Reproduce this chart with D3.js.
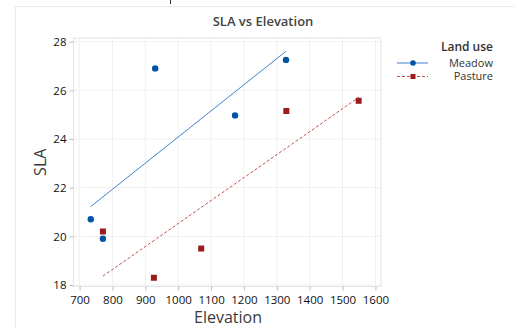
<!DOCTYPE html>
<html>
<head>
<meta charset="utf-8">
<script src="https://cdn.jsdelivr.net/npm/d3@7"></script>
<style>
  html, body { margin: 0; padding: 0; background: #fff; }
  svg { display: block; font-family: "Open Sans", "Noto Sans", sans-serif; }
</style>
</head>
<body>
<svg id="chart" width="514" height="328"></svg>
<script>
// Observations by land use
const meadowElevation = [734, 771, 930, 1173, 1328];
const meadowSLA       = [20.7, 19.9, 26.9, 24.97, 27.25];
const pastureElevation = [771, 926, 1070, 1329, 1549];
const pastureSLA       = [20.2, 18.3, 19.5, 25.15, 25.57];

const xTicks = [700, 800, 900, 1000, 1100, 1200, 1300, 1400, 1500, 1600];
const yTicks = [18, 20, 22, 24, 26, 28];
const landUse = ["Meadow", "Pasture"];

const svg = d3.select("#chart");
const W = 514, H = 328;
const plot = { left: 73.5, right: 381, top: 38, bottom: 286.5 };

const x = d3.scaleLinear().domain([681.5, 1617]).range([plot.left, plot.right]);
const y = d3.scaleLinear().domain([28.15, 17.94]).range([plot.top, plot.bottom]);

const colors = { Meadow: "#0054a6", Pasture: "#9b1c1c" };
const lineColors = { Meadow: "#3f82cf", Pasture: "#c0504d" };

// outer frame of the graph window
svg.append("rect").attr("x", 15.5).attr("y", 6.5).attr("width", W).attr("height", H)
  .attr("fill", "none").attr("stroke", "#ececec");
svg.append("line").attr("x1", 170.5).attr("x2", 170.5).attr("y1", 0).attr("y2", 4)
  .attr("stroke", "#333").attr("stroke-width", 1);

// gridlines
const g = svg.append("g");
g.selectAll(".gx").data(xTicks).join("line")
  .attr("x1", d => x(d)).attr("x2", d => x(d))
  .attr("y1", plot.top).attr("y2", plot.bottom)
  .attr("stroke", "#f0f0f0");
g.selectAll(".gy").data(yTicks).join("line")
  .attr("x1", plot.left).attr("x2", plot.right)
  .attr("y1", d => y(d)).attr("y2", d => y(d))
  .attr("stroke", "#f0f0f0");

// plot frame
svg.append("rect").attr("x", plot.left).attr("y", plot.top)
  .attr("width", plot.right - plot.left).attr("height", plot.bottom - plot.top)
  .attr("fill", "none").attr("stroke", "#e3e3e3");

// axes
const xAxis = svg.append("g").attr("transform", `translate(0,${plot.bottom})`)
  .call(d3.axisBottom(x).tickValues(xTicks).tickFormat(d3.format("d")).tickSize(4).tickSizeOuter(0));
const yAxis = svg.append("g").attr("transform", `translate(${plot.left},0)`)
  .call(d3.axisLeft(y).tickValues(yTicks).tickFormat(d3.format("d")).tickSize(4).tickSizeOuter(0));
[xAxis, yAxis].forEach(a => {
  a.select(".domain").remove();
  a.selectAll(".tick line").attr("stroke", "#bdbdbd");
  a.selectAll(".tick text").attr("fill", "#111").style("font-size", "11.5px")
    .style("font-weight", 500)
    .style("font-family", "'Open Sans', sans-serif");
});
xAxis.selectAll(".tick text").attr("dy", "0.95em");

// least-squares fit per group
function fit(xs, ys) {
  const mx = d3.mean(xs), my = d3.mean(ys);
  const sxy = d3.sum(xs, (v, i) => (v - mx) * (ys[i] - my));
  const sxx = d3.sum(xs, v => (v - mx) * (v - mx));
  const b = sxy / sxx, a = my - b * mx;
  const [x0, x1] = d3.extent(xs);
  return [[x0, a + b * x0], [x1, a + b * x1]];
}

const groups = [
  { name: "Meadow", xs: meadowElevation, ys: meadowSLA, dash: null },
  { name: "Pasture", xs: pastureElevation, ys: pastureSLA, dash: "3,2" }
];

const line = d3.line().x(d => x(d[0])).y(d => y(d[1]));
groups.forEach(gr => {
  svg.append("path").datum(fit(gr.xs, gr.ys)).attr("d", line)
    .attr("fill", "none").attr("stroke", lineColors[gr.name]).attr("stroke-width", 1)
    .attr("stroke-dasharray", gr.dash);
});

// markers
const meadowPts = meadowElevation.map((v, i) => [v, meadowSLA[i]]);
const pasturePts = pastureElevation.map((v, i) => [v, pastureSLA[i]]);
svg.selectAll(".m").data(meadowPts).join("circle")
  .attr("cx", d => x(d[0])).attr("cy", d => y(d[1])).attr("r", 3.2)
  .attr("fill", colors.Meadow);
svg.selectAll(".p").data(pasturePts).join("rect")
  .attr("x", d => x(d[0]) - 3).attr("y", d => y(d[1]) - 3)
  .attr("width", 6).attr("height", 6).attr("fill", colors.Pasture);

// titles
svg.append("text").attr("x", 263).attr("y", 26).attr("text-anchor", "middle")
  .attr("fill", "#444").style("font-size", "13px").style("font-weight", 600)
  .text("SLA vs Elevation");
svg.append("text").attr("x", 228).attr("y", 323).attr("text-anchor", "middle")
  .attr("fill", "#3a3a3a").style("font-size", "16px").style("font-weight", 500)
  .text("Elevation");
svg.append("text").attr("transform", `translate(46,${(plot.top + plot.bottom) / 2}) rotate(-90)`)
  .attr("text-anchor", "middle").attr("fill", "#3a3a3a")
  .style("font-size", "16px").style("font-weight", 500).text("SLA");

// legend
const lg = svg.append("g");
lg.append("text").attr("x", 493).attr("y", 50.5).attr("text-anchor", "end")
  .attr("fill", "#333").style("font-size", "12px").style("font-weight", 600).text("Land use");
landUse.forEach((name, i) => {
  const ly = 63 + i * 13.5;
  lg.append("line").attr("x1", 397).attr("x2", 428).attr("y1", ly).attr("y2", ly)
    .attr("stroke", lineColors[name]).attr("stroke-width", 1)
    .attr("stroke-dasharray", name === "Pasture" ? "3,2" : null);
  if (name === "Meadow") {
    lg.append("circle").attr("cx", 413).attr("cy", ly).attr("r", 2.8).attr("fill", colors[name]);
  } else {
    lg.append("rect").attr("x", 410.5).attr("y", ly - 2.5).attr("width", 5).attr("height", 5)
      .attr("fill", colors[name]);
  }
  lg.append("text").attr("x", 493).attr("y", ly + 3.8).attr("text-anchor", "end")
    .attr("fill", "#333").style("font-size", "11px").text(name);
});
</script>
</body>
</html>
